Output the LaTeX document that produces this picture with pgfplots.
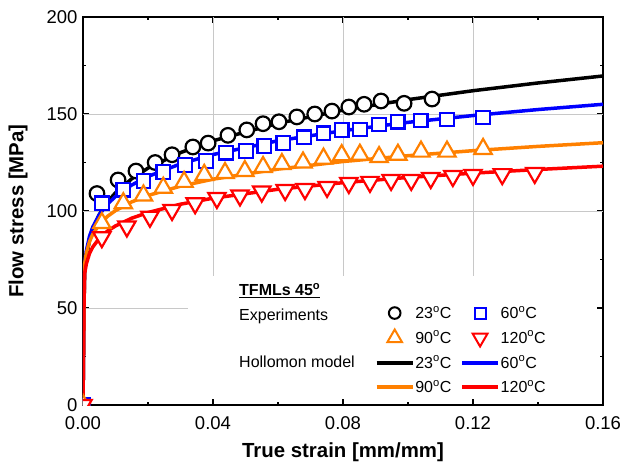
\documentclass[border=0pt]{standalone}
\usepackage{fontspec}
\setmainfont{Liberation Sans}
\usepackage{pgfplots}
\pgfplotsset{compat=1.18}
\usetikzlibrary{calc}
\definecolor{oorange}{RGB}{255,128,0}
\definecolor{gridgray}{RGB}{200,200,200}

\pgfplotsset{
  limg/.style={legend image code/.code={%
    \draw[mark repeat=2,mark phase=2,##1] plot coordinates {(0bp,0bp) (18bp,0bp) (36bp,0bp)};}},
  expt/.style={only marks, mark options={solid, fill=white, line width=2.2bp}},
  model/.style={no marks, line width=3.5bp, line join=round},
}

\begin{document}
\begin{tikzpicture}
\begin{axis}[
  scale only axis, width=520bp, height=388bp,
  xmin=0, xmax=0.16, ymin=0, ymax=200,
  xtick={0,0.04,0.08,0.12,0.16}, ytick={0,50,100,150,200},
  minor x tick num=1, minor y tick num=1,
  scaled x ticks=false,
  major tick length=6bp, minor tick length=3.5bp,
  tick style={black, line width=1.1bp},
  axis line style={line width=1.8bp},
  /pgf/number format/assume math mode=true,
  xticklabel style={/pgf/number format/.cd, fixed, fixed zerofill, precision=2, /tikz/.cd},
  ticklabel style={font=\fontsize{18.5bp}{22bp}\selectfont},
  xticklabel style={yshift=-8bp},
  yticklabel style={xshift=-2bp},
  xlabel={True strain [mm/mm]},
  ylabel={Flow stress [MPa]},
  every axis x label/.style={at={(axis description cs:0.5,-0.121)}, anchor=center,
    font=\bfseries\fontsize{20.4bp}{24bp}\selectfont},
  every axis y label/.style={at={(axis description cs:-0.125,0.5)}, rotate=90, anchor=center,
    font=\bfseries\fontsize{20.4bp}{24bp}\selectfont},
  clip marker paths=true,
  legend columns=2,
  legend cell align=left,
  legend style={at={(axis cs:0.0898,51.5)}, anchor=north west, draw=none, fill=none,
    font=\fontsize{16bp}{19bp}\selectfont, inner sep=0pt, row sep=8.7bp,
    nodes={inner sep=1bp, text height=12bp, text depth=1.5bp},
    /tikz/every even column/.append style={column sep=8bp}},
]
% grid (kept off the legend area)
\draw[gridgray, line width=0.8bp] (axis cs:0.04,66.5) -- (axis cs:0.04,200);
\draw[gridgray, line width=0.8bp] (axis cs:0.08,66.5) -- (axis cs:0.08,200);
\draw[gridgray, line width=0.8bp] (axis cs:0.12,66.5) -- (axis cs:0.12,200);
\draw[gridgray, line width=0.8bp] (axis cs:0,50) -- (axis cs:0.0323,50);
\draw[gridgray, line width=0.8bp] (axis cs:0,100) -- (axis cs:0.16,100);
\draw[gridgray, line width=0.8bp] (axis cs:0,150) -- (axis cs:0.16,150);

% Hollomon model curves
\addplot[model, black, forget plot] coordinates {
  (0,0)(0.0003,50)(0.0005,68.2)(0.001,76.0)(0.002,84.8)(0.003,90.5)(0.005,98.1)
  (0.0075,104.6)(0.01,109.4)(0.015,116.6)(0.02,122.1)(0.03,130.1)(0.04,136.2)
  (0.06,145.2)(0.08,152.0)(0.1,157.4)(0.12,162.0)(0.14,166.0)(0.16,169.6)};
\addplot[model, blue, forget plot] coordinates {
  (0,0)(0.0003,50)(0.0005,72.4)(0.001,79.3)(0.002,86.9)(0.003,91.7)(0.005,98.1)
  (0.0075,103.5)(0.01,107.5)(0.015,113.4)(0.02,117.8)(0.03,124.3)(0.04,129.1)
  (0.06,136.2)(0.08,141.4)(0.1,145.7)(0.12,149.2)(0.14,152.3)(0.16,155.0)};
\addplot[model, oorange, forget plot] coordinates {
  (0,0)(0.0003,50)(0.0005,72.5)(0.001,78.1)(0.002,84.2)(0.003,88.0)(0.005,93.0)
  (0.0075,97.2)(0.01,100.2)(0.015,104.7)(0.02,108.0)(0.03,112.8)(0.04,116.4)
  (0.06,121.6)(0.08,125.5)(0.1,128.5)(0.12,131.1)(0.14,133.3)(0.16,135.2)};
\addplot[model, red, forget plot] coordinates {
  (0,0)(0.0003,50)(0.0005,67.6)(0.001,72.6)(0.002,78.1)(0.003,81.4)(0.005,85.9)
  (0.0075,89.6)(0.01,92.3)(0.015,96.3)(0.02,99.2)(0.03,103.5)(0.04,106.6)
  (0.06,111.2)(0.08,114.6)(0.1,117.3)(0.12,119.5)(0.14,121.4)(0.16,123.1)};

% experiments
\addplot[expt, black, mark=*, mark size=7.3bp, forget plot] coordinates {
  (0,0)(0.0043,109)(0.0108,116)(0.0163,120.6)(0.0222,125)(0.0274,129)(0.0338,133)
  (0.0385,135)(0.0446,139)(0.0504,141.8)(0.0554,145)(0.0603,146)(0.0658,148.5)
  (0.0713,150)(0.0766,151.5)(0.0818,153.6)(0.0865,155)(0.0917,156.7)(0.0988,155.5)
  (0.1074,157.7)};
\addplot[expt, blue, mark=square*, mark size=6.8bp, forget plot] coordinates {
  (0,0)(0.0059,104)(0.0124,111)(0.0186,115.5)(0.0247,120)(0.0314,123.7)(0.0378,125.8)
  (0.0440,130)(0.0501,131)(0.0558,133.5)(0.0616,135)(0.0680,138)(0.0740,140)
  (0.0796,141.8)(0.0852,142)(0.0911,144.6)(0.0968,146)(0.1039,146.6)(0.1120,147.2)
  (0.1231,148.2)};
\addplot[expt, oorange, mark=triangle*, mark size=10bp, forget plot] coordinates {
  (0,0)(0.0058,93.8)(0.0124,104)(0.0186,108)(0.0247,112)(0.0311,115)(0.0373,118.6)
  (0.0437,119.6)(0.0498,120.6)(0.0554,122.7)(0.0612,124.2)(0.0677,125)(0.0740,127)
  (0.0796,128.8)(0.0852,129)(0.0911,127.8)(0.0969,129)(0.1040,130.6)(0.1120,130.6)
  (0.1231,132)};
\addplot[only marks, red, mark=triangle*, mark size=10bp,
  mark options={solid, fill=white, line width=2.2bp, rotate=180}, forget plot] coordinates {
  (0,0)(0.0058,86.5)(0.0135,92)(0.0206,97)(0.0274,100.5)(0.0345,104)(0.0412,106.7)
  (0.0483,108)(0.0550,110)(0.0622,110.8)(0.0683,111.3)(0.0751,112.4)(0.0818,114.4)
  (0.0883,115)(0.0948,116)(0.1010,116)(0.1070,117)(0.1138,118)(0.1200,118.6)
  (0.1290,119)(0.1390,119.6)};

% legend
\addlegendimage{only marks, black, mark=*, mark size=5.8bp, mark options={fill=white, line width=2bp}, limg}
\addlegendentry{23\textsuperscript{o}C}
\addlegendimage{only marks, blue, mark=square*, mark size=5.5bp, mark options={fill=white, line width=2bp}, limg}
\addlegendentry{60\textsuperscript{o}C}
\addlegendimage{only marks, oorange, mark=triangle*, mark size=8.5bp, mark options={fill=white, line width=2bp}, limg}
\addlegendentry{90\textsuperscript{o}C}
\addlegendimage{only marks, red, mark=triangle*, mark size=8.5bp, mark options={fill=white, line width=2bp, rotate=180}, limg}
\addlegendentry{120\textsuperscript{o}C}
\addlegendimage{black, line width=3.3bp, limg}
\addlegendentry{23\textsuperscript{o}C}
\addlegendimage{blue, line width=3.3bp, limg}
\addlegendentry{60\textsuperscript{o}C}
\addlegendimage{oorange, line width=3.3bp, limg}
\addlegendentry{90\textsuperscript{o}C}
\addlegendimage{red, line width=3.3bp, limg}
\addlegendentry{120\textsuperscript{o}C}

\node[anchor=base west, inner sep=0pt, font=\bfseries\fontsize{16bp}{19bp}\selectfont]
  at (axis cs:0.048,56.2) {\underline{TFMLs 45\textsuperscript{o}}};
\node[anchor=base west, inner sep=0pt, font=\fontsize{16bp}{19bp}\selectfont]
  at (axis cs:0.048,43.8) {Experiments};
\node[anchor=base west, inner sep=0pt, font=\fontsize{16bp}{19bp}\selectfont]
  at (axis cs:0.048,19.2) {Hollomon model};
\end{axis}
\pgfresetboundingbox
\path[use as bounding box] ($(current axis.south west)+(-83bp,-60bp)$) rectangle ($(current axis.north east)+(21bp,17bp)$);
\end{tikzpicture}
\end{document}
